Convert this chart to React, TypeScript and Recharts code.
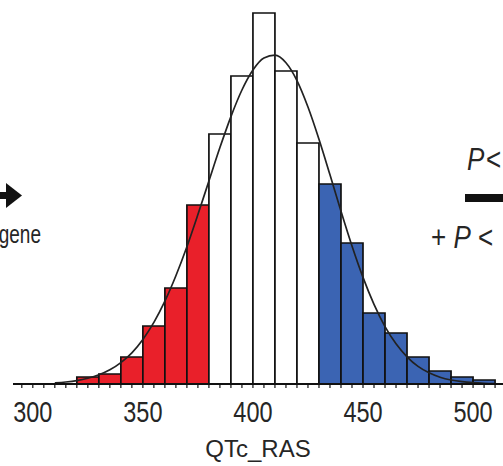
import React from 'react';
import { ComposedChart, Bar, Line, XAxis, YAxis, Cell } from 'recharts';

// Histogram bins (QTc_RAS, 10 ms wide) — centres, heights, colour group
const binCenters = [325, 335, 345, 355, 365, 375, 385, 395, 405, 415, 425, 435, 445, 455, 465, 475, 485, 495, 505];
const binCounts = [3.5, 5, 13.5, 29, 48, 89.5, 125, 154, 185.5, 156.5, 120.5, 100, 70.5, 35.5, 25.5, 13.5, 6.5, 3.5, 2];
const binGroups = ['low', 'low', 'low', 'low', 'low', 'low', 'mid', 'mid', 'mid', 'mid', 'mid', 'high', 'high', 'high', 'high', 'high', 'high', 'high', 'high'];

// Fitted density curve
const curveX = [310, 315, 320, 325, 330, 335, 340, 345, 350, 355, 360, 365, 370, 375, 380, 385, 390, 395, 400, 405, 410, 415, 420, 425, 430, 435, 440, 445, 450, 455, 460, 465, 470, 475, 480, 485, 490, 495, 500, 505, 510];
const curveY = [0.6, 1.0, 1.7, 2.9, 4.6, 7.1, 10.7, 15.6, 22.3, 30.8, 41.4, 54.1, 68.6, 84.7, 101.5, 118.2, 133.7, 147, 157, 163, 164.4, 160.6, 151.7, 138.5, 122.4, 104.6, 86.4, 69, 53.3, 39.8, 28.7, 20.1, 13.6, 8.8, 5.6, 3.4, 2.0, 1.15, 0.64, 0.34, 0.18];

// Axis ticks
const tickValues = [295, 300, 305, 310, 315, 320, 325, 330, 335, 340, 345, 350, 355, 360, 365, 370, 375, 380, 385, 390, 395, 400, 405, 410, 415, 420, 425, 430, 435, 440, 445, 450, 455, 460, 465, 470, 475, 480, 485, 490, 495, 500, 505, 510];
const labeledTicks = [300, 350, 400, 450, 500];
const xDomain = [291, 513.6];
const yDomain = [0, 190];
const axisTitle = 'QTc_RAS';

const groupColors: Record<string, string> = {
  low: '#e9202a',
  mid: '#ffffff',
  high: '#3b64b3',
};

const binData = binCenters.map((x, i) => ({ x, count: binCounts[i], group: binGroups[i] }));
const curveData = curveX.map((x, i) => ({ x, y: curveY[i] }));

const FONT = '"Liberation Sans", Arial, Helvetica, sans-serif';

const Tick = (props: any) => {
  const { x, y, payload } = props;
  if (!labeledTicks.includes(payload.value)) return <g />;
  return (
    <g transform={`translate(${x},${y + 32}) scale(1,1.28)`}>
      <text x={0} y={0} textAnchor="middle" fontSize={23.5} fill="#262626" fontFamily={FONT}>
        {payload.value}
      </text>
    </g>
  );
};

export default function App() {
  return (
    <div style={{ position: 'absolute', left: 0, top: 0, width: 503, height: 466, background: '#fff', overflow: 'hidden' }}>
      <ComposedChart
        width={503}
        height={466}
        data={binData}
        margin={{ top: 4, right: 0, bottom: 0, left: 13 }}
        barCategoryGap={0}
        barGap={0}
      >
        <XAxis
          xAxisId="bars"
          type="number"
          dataKey="x"
          domain={xDomain}
          allowDataOverflow
          ticks={tickValues}
          interval={0}
          tick={<Tick />}
          tickSize={4}
          height={82}
          axisLine={{ stroke: '#111', strokeWidth: 2 }}
          tickLine={{ stroke: '#111', strokeWidth: 1.2 }}
          label={{ value: axisTitle, position: 'insideBottom', offset: 9, fontSize: 24, fill: '#262626', fontFamily: FONT }}
        />
        <XAxis xAxisId="curve" type="number" dataKey="x" domain={xDomain} allowDataOverflow hide />
        <YAxis yAxisId="y" domain={yDomain} hide allowDataOverflow />
        <Bar xAxisId="bars" yAxisId="y" dataKey="count" stroke="#111" strokeWidth={1.7} isAnimationActive={false}>
          {binData.map((d, i) => (
            <Cell key={i} fill={groupColors[d.group]} />
          ))}
        </Bar>
        <Line
          xAxisId="curve"
          yAxisId="y"
          data={curveData}
          dataKey="y"
          type="monotone"
          stroke="#222"
          strokeWidth={1.7}
          dot={false}
          activeDot={false}
          isAnimationActive={false}
        />
      </ComposedChart>
      <svg width={503} height={466} style={{ position: 'absolute', left: 0, top: 0, pointerEvents: 'none' }}>
        <rect x={-10} y={192} width={19} height={7} fill="#111" />
        <polygon points="6,183 22,195.5 6,208" fill="#111" />
        <g transform="translate(41,243) scale(1,1.32)">
          <text x={0} y={0} textAnchor="end" fontSize={19} fill="#262626" fontFamily={FONT}>gene</text>
        </g>
        <g transform="translate(0,170) scale(1,1.2)">
          <text y={0} fontSize={26} fill="#262626" fontFamily={FONT}>
            <tspan x={467} fontStyle="italic">P</tspan>
            <tspan x={486}>&lt;</tspan>
          </text>
        </g>
        <rect x={465} y={194} width={40} height={8} fill="#111" />
        <g transform="translate(0,248) scale(1,1.2)">
          <text x={431} y={0} fontSize={26} fill="#262626" fontFamily={FONT}>
            + <tspan fontStyle="italic">P</tspan> &lt;
          </text>
        </g>
      </svg>
    </div>
  );
}
